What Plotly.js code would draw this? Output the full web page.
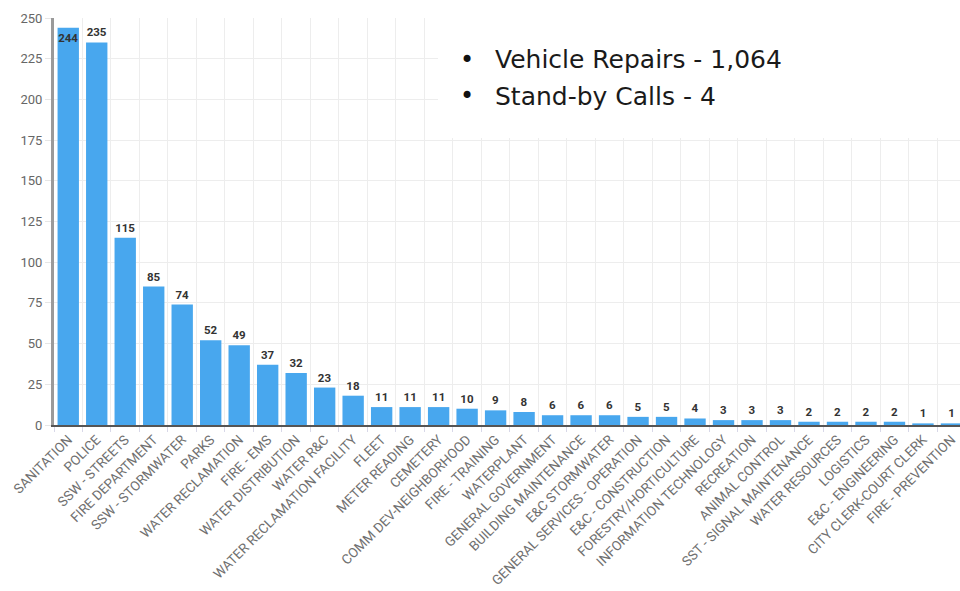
<!DOCTYPE html>
<html>
<head>
<meta charset="utf-8">
<script src="https://cdn.plot.ly/plotly-3.0.1.min.js"></script>
<style>html,body{margin:0;padding:0;background:#fff;}#chart{width:960px;height:591px;}</style>
</head>
<body>
<div id="chart"></div>
<script>
const departments = [
  "SANITATION","POLICE","SSW - STREETS","FIRE DEPARTMENT","SSW - STORMWATER","PARKS",
  "WATER RECLAMATION","FIRE - EMS","WATER DISTRIBUTION","WATER R&C","WATER RECLAMATION FACILITY",
  "FLEET","METER READING","CEMETERY","COMM DEV-NEIGHBORHOOD","FIRE - TRAINING","WATERPLANT",
  "GENERAL GOVERNMENT","BUILDING MAINTENANCE","E&C STORMWATER","GENERAL SERVICES - OPERATION",
  "E&C - CONSTRUCTION","FORESTRY/HORTICULTURE","INFORMATION TECHNOLOGY","RECREATION",
  "ANIMAL CONTROL","SST - SIGNAL MAINTENANCE","WATER RESOURCES","LOGISTICS",
  "E&C - ENGINEERING","CITY CLERK-COURT CLERK","FIRE - PREVENTION"
];
const calls = [244,235,115,85,74,52,49,37,32,23,18,11,11,11,10,9,8,6,6,6,5,5,4,3,3,3,2,2,2,2,1,1];
const yTicks = [0,25,50,75,100,125,150,175,200,225,250];
const notes = ["Vehicle Repairs - 1,064","Stand-by Calls - 4"];

const W = 960, H = 591;
const mL = 54, mR = 0, mT = 18, mB = 166;
const pw = W - mL - mR, ph = H - mT - mB;
const px = x => (x - mL) / pw;
const py = y => (H - mB - y) / ph;

const positions = calls.map((v,i) => i === 0 ? 'inside' : 'outside');

const trace = {
  type: 'bar',
  x: departments,
  y: calls,
  marker: {color: '#48a7ee'},
  text: calls.map(String),
  textposition: positions,
  insidetextanchor: 'end',
  constraintext: 'none',
  textangle: 0,
  cliponaxis: false,
  textfont: {family: 'Roboto, Arial, sans-serif', size: 11.5, color: '#333', weight: 700},
  hoverinfo: 'x+y'
};

const noteAnns = [];
notes.forEach((t, i) => {
  const yy = py(60 + i * 36);
  noteAnns.push({
    xref: 'paper', yref: 'paper', x: px(467), y: yy,
    xanchor: 'center', yanchor: 'middle', text: '•', showarrow: false,
    font: {family: '"DejaVu Sans", sans-serif', size: 24, color: '#111'}
  });
  noteAnns.push({
    xref: 'paper', yref: 'paper', x: px(493), y: yy,
    xanchor: 'left', yanchor: 'middle', text: t, showarrow: false, align: 'left',
    font: {family: '"DejaVu Sans", sans-serif', size: 25, color: '#1a1a1a'}
  });
});

const layout = {
  width: W, height: H,
  margin: {l: mL, r: mR, t: mT, b: mB, pad: 0},
  paper_bgcolor: '#ffffff',
  plot_bgcolor: '#ffffff',
  bargap: 0.25,
  showlegend: false,
  font: {family: 'Roboto, Arial, sans-serif'},
  xaxis: {
    type: 'category',
    range: [-0.5, 31.3],
    tickangle: -45,
    tickson: 'boundaries',
    ticks: 'outside',
    ticklen: 5,
    tickcolor: '#d8d8e8',
    showgrid: true,
    gridcolor: '#ededed',
    gridwidth: 1,
    showline: true,
    linecolor: '#555555',
    linewidth: 1.5,
    tickfont: {family: 'Roboto, Arial, sans-serif', size: 13.5, color: '#707070'},
    automargin: false,
    fixedrange: true
  },
  yaxis: {
    range: [0, 250],
    tickvals: yTicks,
    ticktext: yTicks.map(String),
    ticks: 'outside',
    ticklen: 6,
    tickcolor: '#e6e6e6',
    showgrid: true,
    gridcolor: '#ededed',
    gridwidth: 1,
    zeroline: false,
    showline: true,
    linecolor: '#9a9a9a',
    linewidth: 3,
    tickfont: {family: 'Roboto, Arial, sans-serif', size: 13, color: '#666666'},
    automargin: false,
    fixedrange: true
  },
  shapes: [{
    type: 'rect', xref: 'paper', yref: 'paper',
    x0: px(438), x1: 1.01, y0: py(138), y1: 1.1,
    fillcolor: '#ffffff', line: {width: 0}, layer: 'above'
  }],
  annotations: noteAnns
};

Plotly.newPlot('chart', [trace], layout, {displayModeBar: false, staticPlot: true});
</script>
</body>
</html>
